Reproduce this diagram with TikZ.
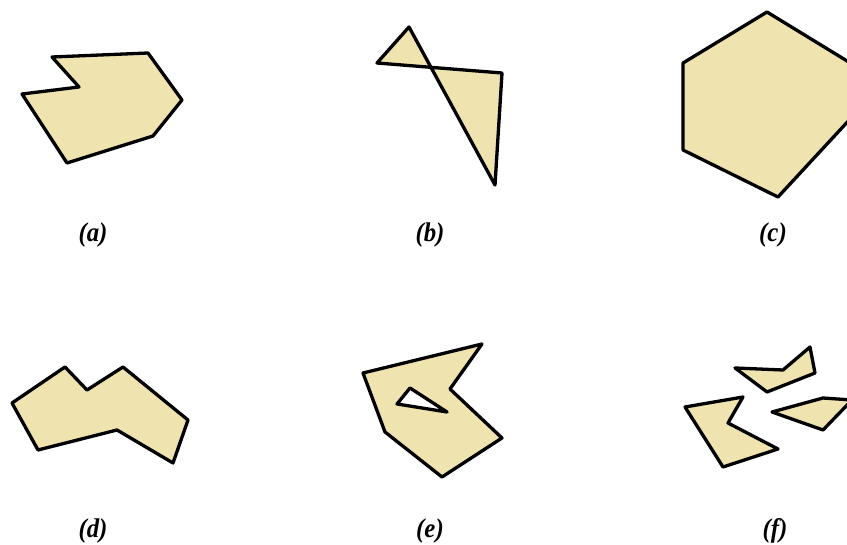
\documentclass[tikz,border=0pt]{standalone}
\usepackage{fontspec}
\setmainfont{Liberation Serif}
\definecolor{polyfill}{RGB}{239,227,176}
\begin{document}
\begin{tikzpicture}[x=1pt,y=-1pt,
  poly/.style={draw=black,fill=polyfill,line width=3.3pt,line join=round},
  hole/.style={draw=black,fill=white,line width=3.3pt,line join=round},
  lbl/.style={font=\fontsize{27}{30}\selectfont\bfseries\itshape,inner sep=0pt,xscale=0.92}]
\useasboundingbox (0,0) rectangle (847,545);
\clip (0,0) rectangle (847,545);
% (a)
\draw[poly] (52,57) -- (148,53) -- (182,100) -- (153,136) -- (67,163) -- (22,94) -- (79,87) -- cycle;
% (b)
\draw[poly] (409,27) -- (495,185) -- (502,73) -- (377,63) -- cycle;
% (c)
\draw[poly] (767,12) -- (852,64) -- (852,117) -- (778,197) -- (683,150) -- (683,63) -- cycle;
% (d)
\draw[poly] (12,403) -- (65,367) -- (87,390) -- (123,367) -- (188,420) -- (173,463) -- (117,430) -- (38,450) -- cycle;
% (e)
\draw[poly] (363,373) -- (482,344) -- (450,389) -- (502,438) -- (442,477) -- (385,432) -- cycle;
\draw[hole] (410,388) -- (447,412) -- (397,404) -- cycle;
% (f)
\draw[poly] (735,368) -- (783,370) -- (810,347) -- (815,373) -- (767,392) -- cycle;
\draw[poly] (772,412) -- (823,398) -- (852,400) -- (823,430) -- cycle;
\draw[poly] (685,407) -- (743,397) -- (728,423) -- (778,449) -- (723,467) -- cycle;
% labels
\node[lbl] (la) at (93,235) {(a)};
\node[lbl] (lb) at (430,235) {(b)};
\node[lbl] (lc) at (773,235) {(c)};
\node[lbl] (ld) at (93,531) {(d)};
\node[lbl] (le) at (430,531) {(e)};
\node[lbl] (lf) at (775,531) {(f)};
\end{tikzpicture}
\end{document}
